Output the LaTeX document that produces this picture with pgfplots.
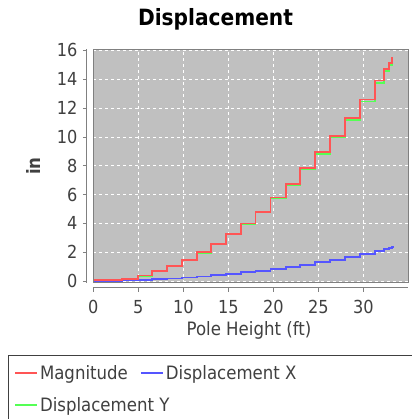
\documentclass[border=0pt]{standalone}
\usepackage{fontspec}
\setmainfont{DejaVu Sans Condensed}
\usepackage{pgfplots}
\pgfplotsset{compat=1.18}
\definecolor{jred}{HTML}{FF5555}
\definecolor{jblue}{HTML}{5555FF}
\definecolor{jgreen}{HTML}{55FF55}
\definecolor{plotbg}{HTML}{C0C0C0}
\definecolor{axgray}{HTML}{808080}
\definecolor{labgray}{HTML}{404040}
\begin{document}
\begin{tikzpicture}
\begin{axis}[
    at={(93.3bp,-282.5bp)}, anchor=south west,
    scale only axis, width=314.7bp, height=233.5bp,
    xmin=0, xmax=34.97, ymin=-0.1, ymax=16.1,
    axis background/.style={fill=plotbg},
    axis x line=bottom, axis y line=left,
    axis line style={-, draw=axgray, line width=0.8bp},
    axis x line shift=5bp, axis y line shift=6.5bp,
    tick align=outside, major tick length=4bp,
    tick style={axgray, line width=0.8bp},
    xtick={0,5,...,30}, ytick={0,2,...,16},
    grid=major,
    major grid style={white, line width=0.7bp, dash pattern=on 3bp off 3bp},
    ticklabel style={font=\fontsize{18}{18}\selectfont, text=labgray},
    xticklabel style={yshift=-5bp},
    yticklabel style={xshift=-2bp},
    /pgf/number format/assume math mode=true,
    clip=false,
    legend columns=2,
    legend cell align=left,
    legend image code/.code={\draw[#1, line width=2bp] (0bp,0bp) -- (22bp,0bp);},
    legend style={at={(axis description cs:-0.262,-0.338)}, anchor=north west,
        draw=none, fill=none, font=\fontsize{18.5}{21}\selectfont, text=labgray,
        row sep=12bp,
        /tikz/every even column/.append style={column sep=10bp}},
]
\addlegendimage{jred}
\addlegendimage{jblue}
\addlegendimage{jgreen}
% Displacement Y
\addplot[const plot, jgreen, line width=1.8bp, forget plot] coordinates {
(0,0.046) (3.17,0.14) (4.94,0.37) (6.5,0.69) (8.17,1.03) (9.85,1.43)
(11.52,1.97) (13.12,2.54) (14.75,3.23) (16.4,3.95) (18.02,4.75) (19.7,5.74)
(21.37,6.66) (22.97,7.76) (24.64,8.83) (26.27,9.98) (27.95,11.20) (29.62,12.46)
(31.29,13.76) (32.33,14.56) (32.89,14.97) (33.15,15.30) (33.26,15.30)
};
% Displacement X
\addplot[const plot, jblue, line width=1.8bp, forget plot] coordinates {
(0,0.02) (3.17,0.05) (4.94,0.08) (6.5,0.13) (8.17,0.18) (9.85,0.25)
(11.52,0.32) (13.12,0.41) (14.75,0.51) (16.4,0.61) (18.02,0.71) (19.7,0.84)
(21.37,0.98) (22.97,1.14) (24.64,1.31) (26.27,1.47) (27.95,1.67) (29.62,1.90)
(31.29,2.09) (32.33,2.23) (32.89,2.32) (33.15,2.38) (33.26,2.42)
};
% Magnitude
\addplot[const plot, jred, line width=1.8bp, forget plot] coordinates {
(0,0.05) (3.17,0.15) (4.94,0.38) (6.5,0.70) (8.17,1.05) (9.85,1.45)
(11.52,2.00) (13.12,2.57) (14.75,3.27) (16.4,4.00) (18.02,4.80) (19.7,5.80)
(21.37,6.73) (22.97,7.84) (24.64,8.93) (26.27,10.09) (27.95,11.32) (29.62,12.60)
(31.29,13.92) (32.33,14.73) (32.89,15.15) (33.15,15.48) (33.26,15.48)
};
\draw[axgray, line width=0.8bp] (rel axis cs:0,0) rectangle (rel axis cs:1,1);
\legend{Magnitude, Displacement X, \makebox[0pt][l]{Displacement Y}}
\end{axis}
\node[font=\fontsize{22.5}{22.5}\selectfont\bfseries] at (215.5bp,-19bp) {Displacement};
\node[font=\fontsize{18.5}{18.5}\selectfont, text=labgray] at (249bp,-330bp) {Pole Height (ft)};
\node[font=\fontsize{18.5}{18.5}\selectfont\bfseries, text=labgray, rotate=90] at (33bp,-166bp) {in};
\draw[black!75, line width=1bp] (8.5bp,-355bp) rectangle (440bp,-440bp);
\pgfresetboundingbox
\path[use as bounding box] (0bp,0bp) rectangle (412bp,-419bp);
\end{tikzpicture}
\end{document}
